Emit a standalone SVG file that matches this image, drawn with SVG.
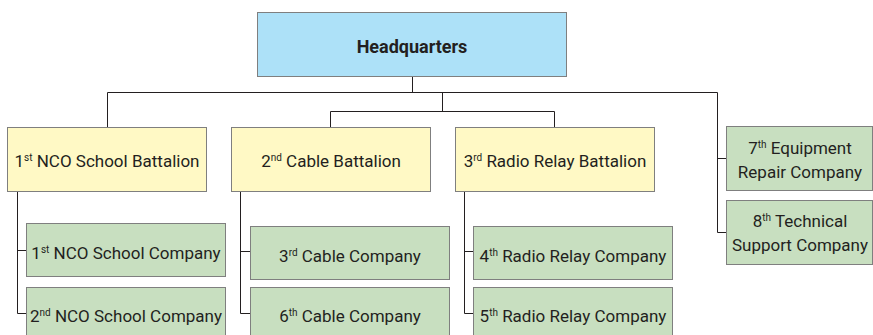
<svg xmlns="http://www.w3.org/2000/svg" width="873" height="335" viewBox="0 0 873 335">
<style>
.box{stroke:#7f7f7f;stroke-width:1}
.hq{fill:#ade1f8}
.bat{fill:#fff9c5}
.co{fill:#c8dfc0}
text{font-family:Roboto,"Liberation Sans",sans-serif;font-size:17px;fill:#231f20;text-anchor:middle}
.b{font-weight:bold;font-size:18px}
.sup{font-size:10px}
.conn{stroke:#231f20;stroke-width:1;fill:none}
</style>
<rect width="873" height="335" fill="#ffffff"/>
<g id="connectors" class="conn">
<path d="M412.5 76V92.5M107.5 92.5H717.5M107.5 92.5V127M442.5 92.5V111.5M330.5 111.5H554.5M330.5 111.5V127M554.5 111.5V127M717.5 92.5V232.5H726M717.5 158.5H726"/>
<path d="M17.5 191V313.5H26M17.5 250.5H26"/>
<path d="M240.5 191V313.5H250M240.5 251.5H250"/>
<path d="M464.5 191V313.5H473M464.5 251.5H473"/>
</g>
<g id="hq"><rect class="box hq" x="257.5" y="12.5" width="309" height="64"/><text class="b" x="412" y="53">Headquarters</text></g>
<g id="bat1"><rect class="box bat" x="7.5" y="127.5" width="199" height="64"/><text x="107" y="167">1<tspan class="sup" dy="-6">st</tspan><tspan dy="6"> NCO School Battalion</tspan></text></g>
<g id="bat2"><rect class="box bat" x="231.5" y="127.5" width="199" height="64"/><text x="331" y="167">2<tspan class="sup" dy="-6">nd</tspan><tspan dy="6"> Cable Battalion</tspan></text></g>
<g id="bat3"><rect class="box bat" x="455.5" y="127.5" width="199" height="64"/><text x="555" y="167">3<tspan class="sup" dy="-6">rd</tspan><tspan dy="6"> Radio Relay Battalion</tspan></text></g>
<g id="co7"><rect class="box co" x="726.5" y="126.5" width="146" height="64"/><text x="800" y="154">7<tspan class="sup" dy="-6">th</tspan><tspan dy="6"> Equipment</tspan></text><text x="800" y="178">Repair Company</text></g>
<g id="co8"><rect class="box co" x="726.5" y="200.5" width="146" height="64"/><text x="800" y="227">8<tspan class="sup" dy="-6">th</tspan><tspan dy="6"> Technical</tspan></text><text x="800" y="251">Support Company</text></g>
<g id="co1"><rect class="box co" x="26.5" y="223.5" width="199" height="53"/><text x="126" y="259">1<tspan class="sup" dy="-6">st</tspan><tspan dy="6"> NCO School Company</tspan></text></g>
<g id="co2"><rect class="box co" x="26.5" y="287.5" width="199" height="53"/><text x="126" y="322">2<tspan class="sup" dy="-6">nd</tspan><tspan dy="6"> NCO School Company</tspan></text></g>
<g id="co3"><rect class="box co" x="250.5" y="226.5" width="199" height="53"/><text x="350" y="262">3<tspan class="sup" dy="-6">rd</tspan><tspan dy="6"> Cable Company</tspan></text></g>
<g id="co6"><rect class="box co" x="250.5" y="287.5" width="199" height="53"/><text x="350" y="322">6<tspan class="sup" dy="-6">th</tspan><tspan dy="6"> Cable Company</tspan></text></g>
<g id="co4"><rect class="box co" x="473.5" y="226.5" width="199" height="53"/><text x="573" y="262">4<tspan class="sup" dy="-6">th</tspan><tspan dy="6"> Radio Relay Company</tspan></text></g>
<g id="co5"><rect class="box co" x="473.5" y="287.5" width="199" height="53"/><text x="573" y="322">5<tspan class="sup" dy="-6">th</tspan><tspan dy="6"> Radio Relay Company</tspan></text></g>
</svg>
